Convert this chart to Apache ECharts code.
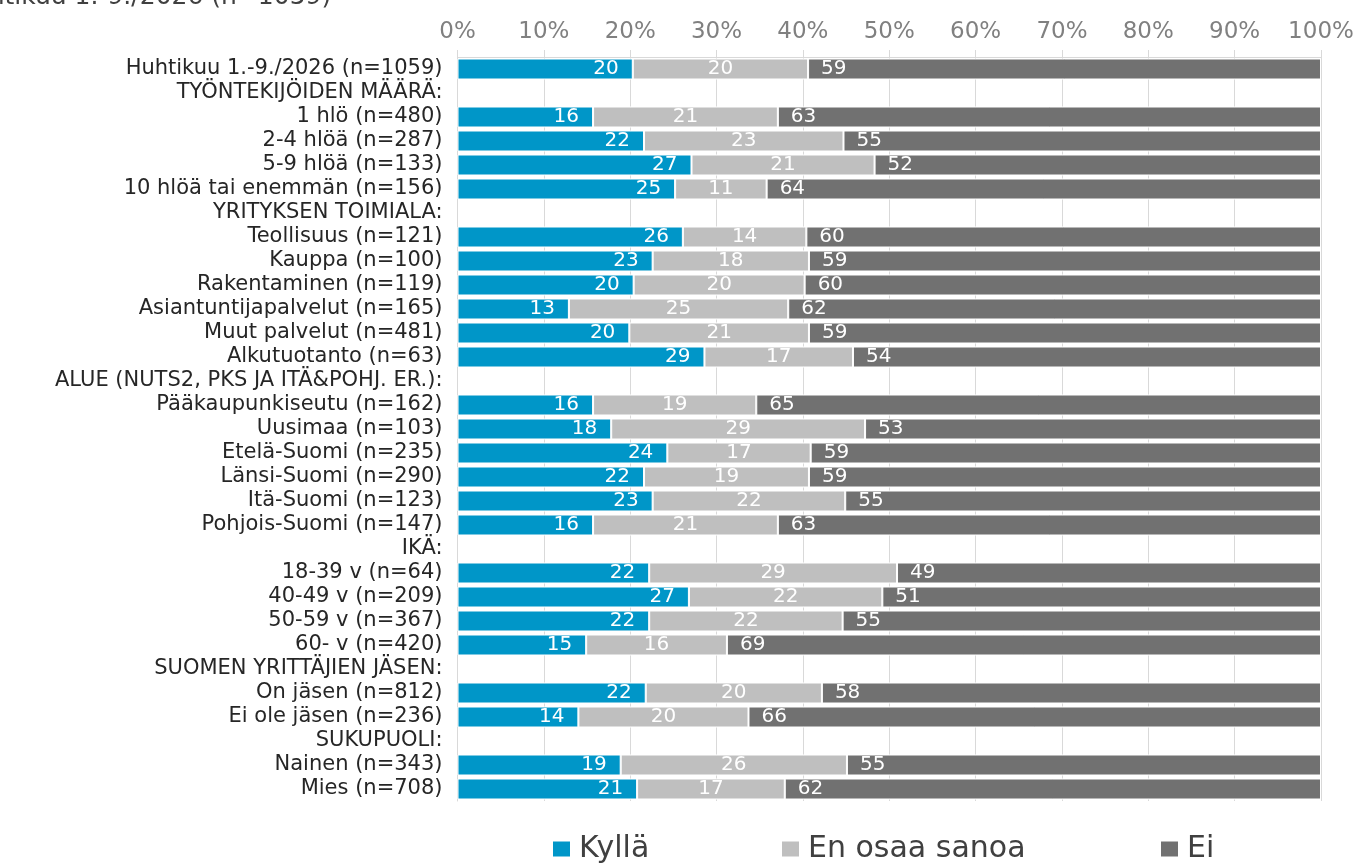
<!DOCTYPE html>
<html>
<head>
<meta charset="utf-8">
<script src="https://cdn.jsdelivr.net/npm/echarts@6/dist/echarts.min.js"></script>
<style>
html,body{margin:0;padding:0;background:#fff;}
#chart{width:1360px;height:863px;}
</style>
</head>
<body>
<div id="chart"></div>
<script>
var titleText = 'Huhtikuu 1.-9./2026 (n=1059)';
var categories = [
  'Huhtikuu 1.-9./2026 (n=1059)',
  'TYÖNTEKIJÖIDEN MÄÄRÄ:',
  '1 hlö (n=480)',
  '2-4 hlöä (n=287)',
  '5-9 hlöä (n=133)',
  '10 hlöä tai enemmän (n=156)',
  'YRITYKSEN TOIMIALA:',
  'Teollisuus (n=121)',
  'Kauppa (n=100)',
  'Rakentaminen (n=119)',
  'Asiantuntijapalvelut (n=165)',
  'Muut palvelut (n=481)',
  'Alkutuotanto (n=63)',
  'ALUE (NUTS2, PKS JA ITÄ&POHJ. ER.):',
  'Pääkaupunkiseutu (n=162)',
  'Uusimaa (n=103)',
  'Etelä-Suomi (n=235)',
  'Länsi-Suomi (n=290)',
  'Itä-Suomi (n=123)',
  'Pohjois-Suomi (n=147)',
  'IKÄ:',
  '18-39 v (n=64)',
  '40-49 v (n=209)',
  '50-59 v (n=367)',
  '60- v (n=420)',
  'SUOMEN YRITTÄJIEN JÄSEN:',
  'On jäsen (n=812)',
  'Ei ole jäsen (n=236)',
  'SUKUPUOLI:',
  'Nainen (n=343)',
  'Mies (n=708)'
];
var seriesNames = ['Kyllä', 'En osaa sanoa', 'Ei'];
var kylla  = [20.3, null, 15.7, 21.6, 27.1, 25.2, null, 26.1, 22.6, 20.4, 12.9, 19.9, 28.6, null, 15.7, 17.8, 24.3, 21.6, 22.6, 15.7, null, 22.2, 26.8, 22.2, 14.9, null, 21.8, 14.0, null, 18.9, 20.8];
var enOsaa = [20.3, null, 21.4, 23.1, 21.2, 10.6, null, 14.3, 18.1, 19.8, 25.4, 20.8, 17.2, null, 18.9, 29.4, 16.6, 19.1, 22.3, 21.4, null, 28.7, 22.4, 22.4, 16.3, null, 20.4, 19.7, null, 26.2, 17.1];
var ei     = [59.4, null, 62.9, 55.3, 51.7, 64.2, null, 59.6, 59.3, 59.8, 61.7, 59.3, 54.2, null, 65.4, 52.8, 59.1, 59.3, 55.1, 62.9, null, 49.1, 50.8, 55.4, 68.8, null, 57.8, 66.3, null, 54.9, 62.1];

var FONT = '"DejaVu Sans", Verdana, sans-serif';
var colors = ['#0096C8', '#BFBFBF', '#717171'];

function labelFmt(p) {
  return (p.value == null || p.value === '') ? '' : String(Math.round(p.value));
}

function mkSeries(name, data, color, pos, dist) {
  return {
    name: name,
    type: 'bar',
    stack: 'total',
    barWidth: 21,
    data: data,
    itemStyle: { color: color, borderColor: '#ffffff', borderWidth: 1 },
    label: {
      show: true,
      position: pos,
      distance: dist,
      color: '#ffffff',
      fontSize: 20,
      fontFamily: FONT,
      formatter: labelFmt
    },
    emphasis: { disabled: true },
    animation: false
  };
}

function mkLegend(name, left) {
  return {
    data: [name],
    left: left,
    top: 829,
    itemWidth: 17,
    itemHeight: 15,
    itemGap: 0,
    icon: 'rect',
    itemStyle: { borderWidth: 0 },
    textStyle: { fontSize: 30, fontFamily: FONT, color: '#404040', padding: [0, 0, 0, 4] }
  };
}

var chart = echarts.init(document.getElementById('chart'), null, { renderer: 'canvas' });
chart.setOption({
  animation: false,
  color: colors,
  graphic: [{
    type: 'text',
    left: -46,
    top: -15,
    style: { text: titleText, fontSize: 25, fontFamily: FONT, fill: '#404040' }
  }],
  legend: [
    mkLegend(seriesNames[0], 548),
    mkLegend(seriesNames[1], 777),
    mkLegend(seriesNames[2], 1156)
  ],
  grid: { left: 457.5, right: 39, top: 57, bottom: 62, containLabel: false },
  xAxis: {
    type: 'value',
    position: 'top',
    min: 0,
    max: 100,
    interval: 10,
    axisLine: { show: true, lineStyle: { color: '#d9d9d9', width: 1 } },
    axisTick: { show: true, length: 7, lineStyle: { color: '#d9d9d9' } },
    splitLine: { show: true, lineStyle: { color: '#d9d9d9', width: 1 } },
    axisLabel: { formatter: '{value}%', fontSize: 23, fontFamily: FONT, color: '#808080', margin: 13 }
  },
  yAxis: {
    type: 'category',
    inverse: true,
    data: categories,
    axisLine: { show: true, lineStyle: { color: '#d9d9d9' } },
    axisTick: { show: false },
    axisLabel: { fontSize: 21, fontFamily: FONT, color: '#262626', margin: 15, interval: 0 }
  },
  series: [
    mkSeries(seriesNames[0], kylla, colors[0], 'insideRight', 14),
    mkSeries(seriesNames[1], enOsaa, colors[1], 'inside', 0),
    mkSeries(seriesNames[2], ei, colors[2], 'insideLeft', 13)
  ]
});
</script>
</body>
</html>
